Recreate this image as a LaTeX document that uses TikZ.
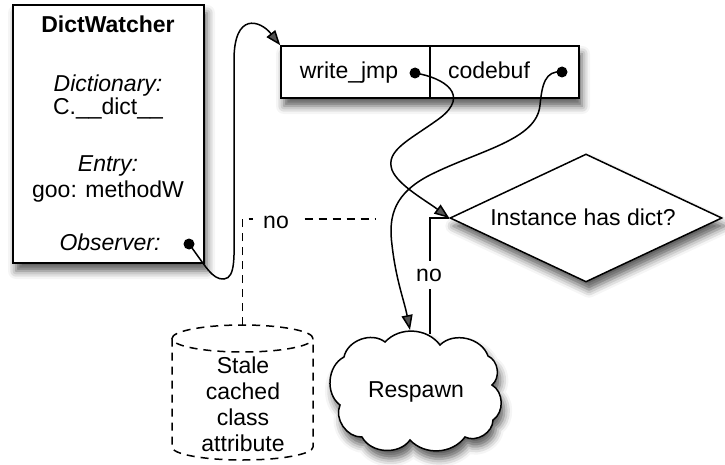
\documentclass[tikz,border=0pt]{standalone}
\usepackage{fontspec}
\setmainfont{Liberation Sans}
\usetikzlibrary{arrows.meta,shapes.geometric,shadows.blur,calc}
\newcommand\labelsize{\fontsize{23}{26}\selectfont}
\begin{document}
\begin{tikzpicture}[x=1pt,y=-1pt,
  txt/.style={font=\labelsize, inner sep=0pt, anchor=base},
  wire/.style={line width=1.5pt},
  arr/.style={wire,-{Triangle[length=15pt,width=11pt]}},
  dropshadow/.style={blur shadow={shadow xshift=3pt,shadow yshift=-8pt,shadow blur radius=8pt,shadow opacity=65}},
  box/.style={draw,line width=1.5pt,fill=white,inner sep=0pt,dropshadow},
  dashline/.style={wire,dash pattern=on 8pt off 6pt},
  lbl/.style={txt,fill=white,inner xsep=10pt,inner ysep=8pt},
  puff/.style={bend left=58}]
\useasboundingbox (0,0) rectangle (725,465);

% DictWatcher panel
\node[box, minimum width=191pt, minimum height=258pt] (watcher) at (108.5,134) {};
\node[txt, font=\labelsize\bfseries] (wtitle) at (108,33) {DictWatcher};
\node[txt, font=\labelsize\itshape] (wdict) at (108,92) {Dictionary:};
\node[txt] (wdictval) at (108,115) {C.\_\_dict\_\_};
\node[txt, font=\labelsize\itshape] (wentry) at (108,172) {Entry:};
\node[txt] (wentryval) at (108,197) {goo: methodW};
\node[txt, font=\labelsize\itshape] (wobs) at (110,250) {Observer:};
\coordinate (obsdot) at (189,244);

% two-field record
\node[box, minimum width=298pt, minimum height=52pt] (record) at (430,72) {};
\draw[wire] (record.north) -- (record.south);
\node[txt] (wjlabel) at (349,79) {write\_jmp};
\node[txt] (cblabel) at (489,79) {codebuf};
\coordinate (wjdot) at (415,73);
\coordinate (cbdot) at (562,72);

% decision
\node[diamond, draw, line width=1.5pt, fill=white, inner sep=0pt,
      minimum width=272pt, minimum height=128pt, dropshadow] (test) at (586,218) {};
\node[txt] (testlabel) at (583,225) {Instance has dict?};

% respawn cloud, drawn puff by puff
\draw[wire, fill=white, dropshadow]
  (344,357) to[puff] (385,342) to[puff, bend left=50] (440,345)
  to[puff] (488,356) to[puff] (492,385) to[puff] (493,420)
  to[puff] (465,437) to[puff, bend left=50] (410,440) to[puff] (362,437)
  to[puff] (340,405) to[puff] (344,357) -- cycle;
\node[txt] (respawn) at (416,397) {Respawn};
\coordinate (respawnin) at (410,330);
\coordinate (respawnno) at (430,334);

% stale cache store (dashed cylinder)
\coordinate (stale) at (242.5,325);
\draw[dashline] (242.5,338.5) ellipse [x radius=70.5pt, y radius=13.5pt];
\draw[dashline] (172,338.5) -- (172,447)
  arc[start angle=180, end angle=360, x radius=70.5pt, y radius=13pt] -- (313,338.5);
\node[txt] (st1) at (243,373) {Stale};
\node[txt] (st2) at (243,399) {cached};
\node[txt] (st3) at (243,425) {class};
\node[txt] (st4) at (243,451) {attribute};

% "no" branches
\coordinate (dashend) at (375,219);
\draw[dashline] (stale) |- (dashend);
\node[lbl] (nodash) at (276,228) {no};
\coordinate (noturn) at (430,218);
\draw[wire] (test.west) -- (noturn) -- (respawnno);
\node[lbl] (nosolid) at (429,281) {no};

% pointer connectors
\draw[arr] (obsdot) .. controls (205,265) and (212,280) .. (224,279)
  .. controls (236,278) and (234,255) .. (234,225) -- (234,60)
  .. controls (234,12) and (260,20) .. (record.north west);
\draw[arr] (wjdot) .. controls (445,78) and (470,95) .. (440,118)
  .. controls (410,140) and (385,150) .. (392,170)
  .. controls (398,185) and (425,200) .. (test.west);
\draw[arr] (cbdot) .. controls (545,70) and (542,85) .. (540,105)
  .. controls (537,140) and (480,150) .. (430,175)
  .. controls (395,193) and (388,215) .. (392,245)
  .. controls (396,280) and (404,300) .. (respawnin);

% pointer dots
\fill (obsdot) circle (5.5pt);
\fill (wjdot) circle (5.5pt);
\fill (cbdot) circle (5.5pt);
\end{tikzpicture}
\end{document}
